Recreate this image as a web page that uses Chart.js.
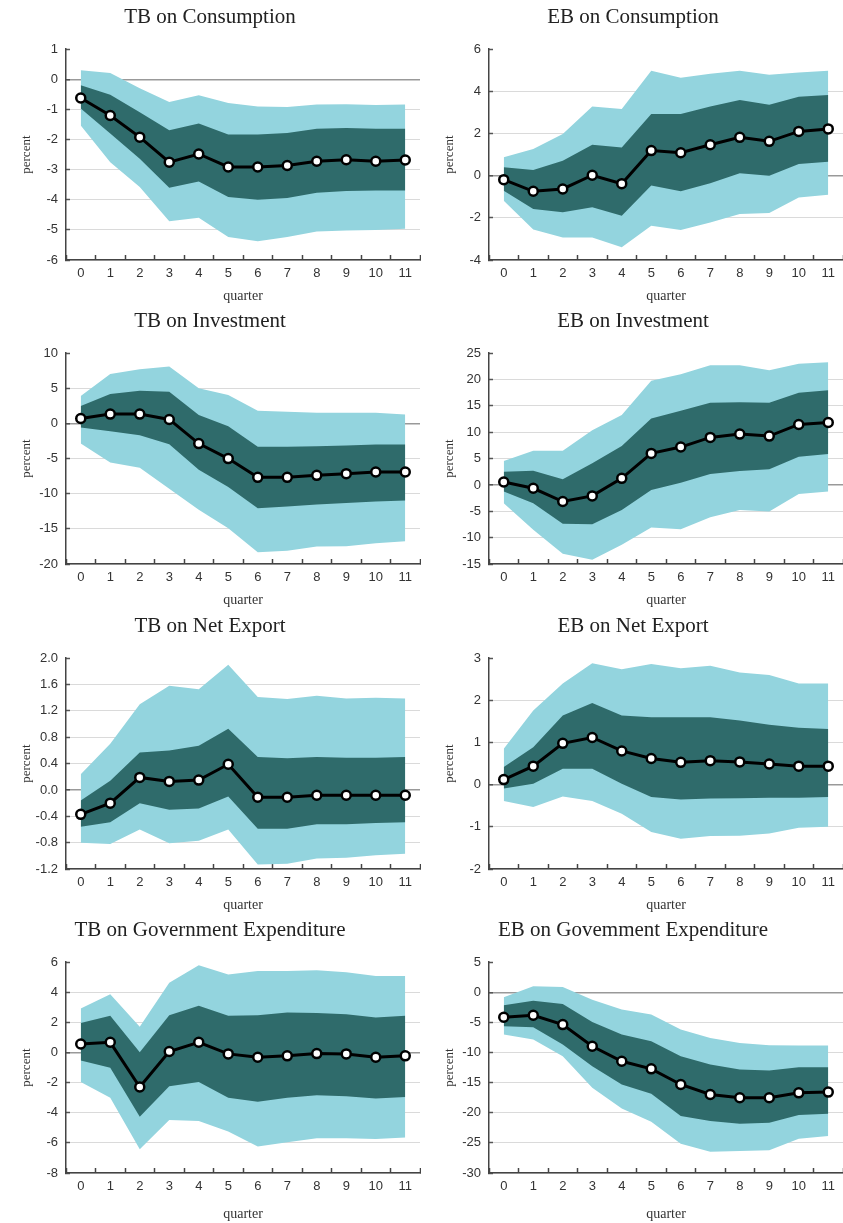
<!DOCTYPE html>
<html>
<head>
<meta charset="utf-8">
<script src="https://cdn.jsdelivr.net/npm/chart.js@4/dist/chart.umd.min.js"></script>
<style>
  body { margin: 0; background: #fff; }
  #wrap { position: relative; width: 843px; height: 1223px; overflow: hidden; }
  canvas { position: absolute; }
</style>
</head>
<body>
<div id="wrap"></div>
<script>
const quarters = ['0', '1', '2', '3', '4', '5', '6', '7', '8', '9', '10', '11'];

// TB on Consumption
const tbConsMed  = [-0.62, -1.2, -1.92, -2.75, -2.48, -2.91, -2.91, -2.86, -2.72, -2.67, -2.72, -2.68];
const tbConsInHi = [-0.2, -0.51, -1.09, -1.69, -1.47, -1.83, -1.83, -1.78, -1.64, -1.62, -1.64, -1.64];
const tbConsInLo = [-0.97, -1.8, -2.64, -3.6, -3.39, -3.91, -4.0, -3.94, -3.77, -3.71, -3.69, -3.69];
const tbConsOutHi = [0.3, 0.21, -0.3, -0.75, -0.53, -0.79, -0.9, -0.92, -0.84, -0.83, -0.85, -0.84];
const tbConsOutLo = [-1.53, -2.75, -3.58, -4.71, -4.6, -5.24, -5.38, -5.24, -5.05, -5.02, -5.0, -4.96];

// EB on Consumption
const ebConsMed  = [-0.19, -0.74, -0.63, 0.02, -0.38, 1.19, 1.09, 1.47, 1.82, 1.63, 2.1, 2.22];
const ebConsInHi = [0.4, 0.27, 0.71, 1.47, 1.34, 2.93, 2.93, 3.28, 3.59, 3.37, 3.75, 3.83];
const ebConsInLo = [-0.71, -1.58, -1.74, -1.5, -1.9, -0.47, -0.74, -0.36, 0.11, 0.0, 0.55, 0.66];
const ebConsOutHi = [0.87, 1.27, 1.98, 3.28, 3.16, 4.98, 4.64, 4.83, 4.98, 4.79, 4.9, 4.98];
const ebConsOutLo = [-1.19, -2.55, -2.93, -2.93, -3.4, -2.37, -2.58, -2.22, -1.82, -1.77, -1.03, -0.9];

// TB on Investment
const tbInvMed  = [0.71, 1.33, 1.33, 0.57, -2.86, -5.0, -7.67, -7.67, -7.38, -7.14, -6.9, -6.9];
const tbInvInHi = [2.48, 4.19, 4.67, 4.52, 1.19, -0.38, -3.33, -3.33, -3.24, -3.14, -3.0, -3.0];
const tbInvInLo = [-0.57, -1.1, -1.67, -2.95, -6.57, -9.05, -12.05, -11.8, -11.52, -11.33, -11.1, -10.95];
const tbInvOutHi = [3.9, 7.05, 7.71, 8.1, 5.0, 4.05, 1.81, 1.67, 1.52, 1.52, 1.52, 1.29];
const tbInvOutLo = [-2.86, -5.57, -6.29, -9.29, -12.29, -14.9, -18.33, -18.1, -17.52, -17.48, -17.05, -16.76];

// EB on Investment
const ebInvMed  = [0.57, -0.63, -3.15, -2.08, 1.26, 5.99, 7.19, 9.02, 9.65, 9.27, 11.48, 11.86];
const ebInvInHi = [2.52, 2.71, 1.07, 4.1, 7.38, 12.62, 14.07, 15.58, 15.71, 15.58, 17.48, 17.98];
const ebInvInLo = [-1.26, -3.47, -7.38, -7.44, -4.73, -0.95, 0.44, 2.08, 2.65, 2.97, 5.36, 5.87];
const ebInvOutHi = [4.54, 6.5, 6.5, 10.4, 13.25, 19.75, 21.0, 22.7, 22.7, 21.77, 23.0, 23.28];
const ebInvOutLo = [-3.47, -8.52, -13.06, -14.2, -11.36, -8.08, -8.39, -6.12, -4.73, -5.05, -1.7, -1.26];

// TB on Net Export
const tbNxMed  = [-0.37, -0.2, 0.19, 0.13, 0.15, 0.39, -0.11, -0.11, -0.08, -0.08, -0.08, -0.08];
const tbNxInHi = [-0.16, 0.14, 0.57, 0.6, 0.67, 0.93, 0.5, 0.48, 0.5, 0.49, 0.49, 0.5];
const tbNxInLo = [-0.56, -0.49, -0.2, -0.3, -0.28, -0.1, -0.59, -0.59, -0.52, -0.52, -0.5, -0.49];
const tbNxOutHi = [0.24, 0.7, 1.3, 1.58, 1.53, 1.9, 1.41, 1.38, 1.43, 1.39, 1.4, 1.39];
const tbNxOutLo = [-0.8, -0.82, -0.6, -0.81, -0.77, -0.6, -1.13, -1.12, -1.04, -1.03, -0.99, -0.97];

// EB on Net Export
const ebNxMed  = [0.12, 0.44, 0.98, 1.12, 0.8, 0.62, 0.53, 0.57, 0.54, 0.49, 0.44, 0.44];
const ebNxInHi = [0.42, 0.89, 1.64, 1.94, 1.64, 1.6, 1.6, 1.6, 1.52, 1.42, 1.35, 1.32];
const ebNxInLo = [-0.09, 0.02, 0.38, 0.38, 0.02, -0.29, -0.35, -0.33, -0.32, -0.31, -0.31, -0.29];
const ebNxOutHi = [0.85, 1.76, 2.4, 2.88, 2.74, 2.86, 2.76, 2.82, 2.66, 2.6, 2.4, 2.4];
const ebNxOutLo = [-0.39, -0.53, -0.28, -0.39, -0.69, -1.12, -1.28, -1.22, -1.21, -1.16, -1.02, -1.0];

// TB on Government Expenditure
const tbGovMed  = [0.57, 0.68, -2.29, 0.07, 0.68, -0.09, -0.31, -0.22, -0.07, -0.09, -0.31, -0.22];
const tbGovInHi = [1.96, 2.44, 0.02, 2.48, 3.1, 2.44, 2.48, 2.66, 2.62, 2.55, 2.33, 2.44];
const tbGovInLo = [-0.53, -1.01, -4.26, -2.24, -1.96, -3.01, -3.27, -3.01, -2.84, -2.9, -3.05, -2.95];
const tbGovOutHi = [2.92, 3.87, 1.71, 4.64, 5.8, 5.19, 5.41, 5.41, 5.47, 5.34, 5.08, 5.08];
const tbGovOutLo = [-1.96, -3.01, -6.42, -4.48, -4.55, -5.25, -6.24, -5.96, -5.69, -5.69, -5.74, -5.65];

// EB on Government Expenditure
const ebGovMed  = [-4.14, -3.81, -5.36, -8.95, -11.44, -12.71, -15.3, -16.96, -17.51, -17.51, -16.69, -16.57];
const ebGovInHi = [-2.15, -1.38, -1.93, -4.92, -7.02, -8.12, -10.61, -11.99, -12.82, -12.98, -12.43, -12.43];
const ebGovInLo = [-5.64, -5.8, -8.67, -12.27, -15.3, -16.85, -20.55, -21.38, -21.82, -21.66, -20.39, -20.17];
const ebGovOutHi = [-0.83, 0.99, 0.88, -1.22, -2.87, -3.7, -6.19, -7.57, -8.4, -8.78, -8.84, -8.84];
const ebGovOutLo = [-7.02, -7.85, -10.61, -15.86, -19.28, -21.49, -25.14, -26.46, -26.35, -26.24, -24.31, -23.87];

const titles = [
  'TB on Consumption', 'EB on Consumption',
  'TB on Investment', 'EB on Investment',
  'TB on Net Export', 'EB on Net Export',
  'TB on Government Expenditure', 'EB on Govemment Expenditure'
];
const yMins  = [-6, -4, -20, -15, -1.2, -2, -8, -30];
const yMaxs  = [1, 6, 10, 25, 2.0, 3, 6, 5];
const ySteps = [1, 2, 5, 5, 0.4, 1, 2, 5];

const series = [
  [tbConsMed, tbConsInHi, tbConsInLo, tbConsOutHi, tbConsOutLo],
  [ebConsMed, ebConsInHi, ebConsInLo, ebConsOutHi, ebConsOutLo],
  [tbInvMed, tbInvInHi, tbInvInLo, tbInvOutHi, tbInvOutLo],
  [ebInvMed, ebInvInHi, ebInvInLo, ebInvOutHi, ebInvOutLo],
  [tbNxMed, tbNxInHi, tbNxInLo, tbNxOutHi, tbNxOutLo],
  [ebNxMed, ebNxInHi, ebNxInLo, ebNxOutHi, ebNxOutLo],
  [tbGovMed, tbGovInHi, tbGovInLo, tbGovOutHi, tbGovOutLo],
  [ebGovMed, ebGovInHi, ebGovInLo, ebGovOutHi, ebGovOutLo]
];

const LIGHT = '#93d4de';
const DARK = '#2f6b6b';
const rowTops = [0, 304, 609, 913];
const rowHeights = [305, 305, 305, 310];

const wrap = document.getElementById('wrap');

series.forEach((s, i) => {
  const row = Math.floor(i / 2), col = i % 2;
  const canvas = document.createElement('canvas');
  const w = col === 0 ? 421 : 420;
  const h = rowHeights[row];
  canvas.width = w;
  canvas.height = h;
  canvas.style.left = (col === 0 ? 0 : 423) + 'px';
  canvas.style.top = rowTops[row] + 'px';
  wrap.appendChild(canvas);

  const band = (data, fill, color) => ({
    data: data, fill: fill, backgroundColor: color, borderWidth: 0,
    pointRadius: 0, tension: 0
  });
  const yMax = yMaxs[i];
  const decimals = ySteps[i] < 1 ? 1 : 0;

  new Chart(canvas, {
    type: 'line',
    data: {
      labels: quarters,
      datasets: [
        {
          data: s[0], borderColor: '#000', borderWidth: 3, fill: false, tension: 0,
          pointRadius: 4.5, pointBackgroundColor: '#fff', pointBorderColor: '#000',
          pointBorderWidth: 2.5
        },
        band(s[1], 2, DARK),
        band(s[2], false, DARK),
        band(s[3], 4, LIGHT),
        band(s[4], false, LIGHT)
      ]
    },
    options: {
      responsive: false,
      animation: false,
      devicePixelRatio: 1,
      layout: {
        autoPadding: false,
        padding: { left: 0, right: col === 0 ? 1 : 0, top: 0, bottom: 0 }
      },
      plugins: {
        legend: { display: false },
        tooltip: { enabled: false },
        title: {
          display: true,
          text: titles[i],
          color: '#222',
          font: { family: 'Liberation Serif', size: 21, weight: 'normal' },
          padding: { top: 5, bottom: 19 }
        }
      },
      scales: {
        x: {
          offset: true,
          grid: {
            display: true, drawOnChartArea: false, offset: true,
            tickLength: -5, tickColor: '#444', tickWidth: 1.5
          },
          border: { display: true, color: '#444', width: 1.5 },
          ticks: {
            color: '#333', padding: 11, maxRotation: 0, autoSkip: false,
            font: { family: 'Liberation Sans', size: 13 }
          },
          title: {
            display: true, text: 'quarter', color: '#333',
            font: { family: 'Liberation Serif', size: 14 },
            padding: { top: 0, bottom: 0 }
          },
          afterFit: sc => {
            sc.height = h - 260;
            sc.paddingLeft = 0;
            sc.paddingRight = 0;
          }
        },
        y: {
          min: yMins[i], max: yMax,
          grid: {
            color: c => {
              if (!c.tick) return 'rgba(0,0,0,0)';
              if (Math.abs(c.tick.value - yMax) < 1e-6) return 'rgba(0,0,0,0)';
              if (Math.abs(c.tick.value) < 1e-6) return '#999';
              return '#dadada';
            },
            lineWidth: c => (c.tick && Math.abs(c.tick.value) < 1e-6) ? 1.5 : 1,
            tickLength: -4, tickColor: '#555', tickWidth: 1.5
          },
          border: { display: true, color: '#444', width: 1.5 },
          ticks: {
            stepSize: ySteps[i], color: '#333', padding: 12,
            font: { family: 'Liberation Sans', size: 13 },
            callback: v => Number(v).toFixed(decimals)
          },
          title: {
            display: true, text: 'percent', color: '#333',
            font: { family: 'Liberation Serif', size: 13 },
            padding: { top: 19, bottom: 0 }
          },
          afterFit: sc => { sc.width = 66; }
        }
      }
    }
  });
});
</script>
</body>
</html>
